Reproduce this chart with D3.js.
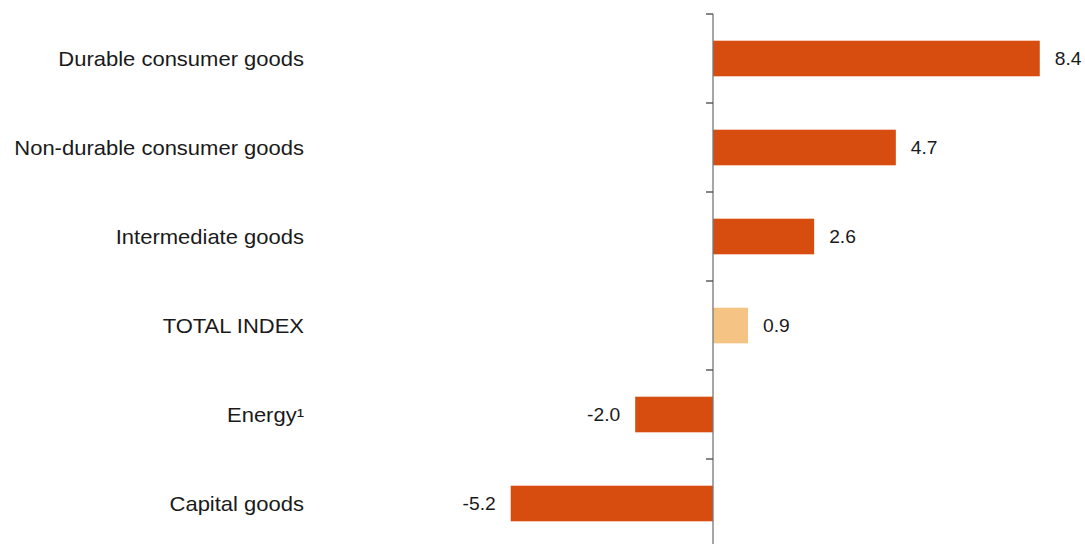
<html>
<head>
<meta charset="utf-8">
<script src="https://d3js.org/d3.v7.min.js"></script>
<style>
  body { margin: 0; background: #fff; }
  text { font-family: "Liberation Sans", Arial, sans-serif; }
</style>
</head>
<body>
<div class="viz"></div>
<script type="text/javascript">
var categories = ["Durable consumer goods", "Non-durable consumer goods", "Intermediate goods", "TOTAL INDEX", "Energy\u00b9", "Capital goods"];
var values = [8.4, 4.7, 2.6, 0.9, -2.0, -5.2];
var highlight = ["TOTAL INDEX"];

var width = 1085, height = 544;
var zeroX = 713, unit = 38.9;
var stretch = 1.1; // labels in the source look slightly wide

var svg = d3.select(".viz").append("svg")
    .attr("width", width)
    .attr("height", height);

var x = d3.scaleLinear()
    .domain([-5.2, 8.4])
    .range([zeroX - 5.2 * unit, zeroX + 8.4 * unit]);

var y = d3.scaleBand()
    .domain(categories)
    .range([14, 548])
    .paddingInner(0.6)
    .paddingOuter(0.3);

var rows = categories.map(function(c, i) { return {name: c, value: values[i]}; });

svg.selectAll("rect.bar")
    .data(rows)
    .enter()
    .append("rect")
    .attr("class", "bar")
    .attr("x", function(d) { return x(Math.min(0, d.value)); })
    .attr("y", function(d) { return y(d.name); })
    .attr("width", function(d) { return Math.abs(x(d.value) - x(0)); })
    .attr("height", y.bandwidth())
    .attr("fill", function(d) { return highlight.indexOf(d.name) >= 0 ? "#f5c383" : "#d64d0f"; });

// vertical axis at zero with ticks between categories
var step = y.step();
var tickYs = d3.range(categories.length).map(function(i) { return 14 + i * step; });
svg.append("line")
    .attr("x1", x(0)).attr("x2", x(0))
    .attr("y1", 14).attr("y2", height)
    .attr("stroke", "#777").attr("stroke-width", 1.3);
svg.selectAll("line.tick")
    .data(tickYs)
    .enter()
    .append("line")
    .attr("class", "tick")
    .attr("x1", x(0) - 7).attr("x2", x(0))
    .attr("y1", function(d) { return d; }).attr("y2", function(d) { return d; })
    .attr("stroke", "#444").attr("stroke-width", 1.3);

svg.selectAll("text.cat")
    .data(rows)
    .enter()
    .append("text")
    .attr("class", "cat")
    .attr("transform", function(d) {
        return "translate(304," + (y(d.name) + y.bandwidth() / 2) + ") scale(" + stretch + ",1)";
    })
    .attr("dy", "0.36em")
    .attr("text-anchor", "end")
    .attr("font-size", 20)
    .attr("fill", "#1a1a1a")
    .text(function(d) { return d.name; });

svg.selectAll("text.val")
    .data(rows)
    .enter()
    .append("text")
    .attr("class", "val")
    .attr("transform", function(d) {
        var tx = d.value >= 0 ? x(d.value) + 15 : x(d.value) - 15;
        return "translate(" + tx + "," + (y(d.name) + y.bandwidth() / 2) + ") scale(" + stretch + ",1)";
    })
    .attr("dy", "0.36em")
    .attr("text-anchor", function(d) { return d.value >= 0 ? "start" : "end"; })
    .attr("font-size", 17.5)
    .attr("fill", "#1a1a1a")
    .text(function(d) { return d3.format(".1f")(d.value).replace("\u2212", "-"); });
</script>
</body>
</html>
